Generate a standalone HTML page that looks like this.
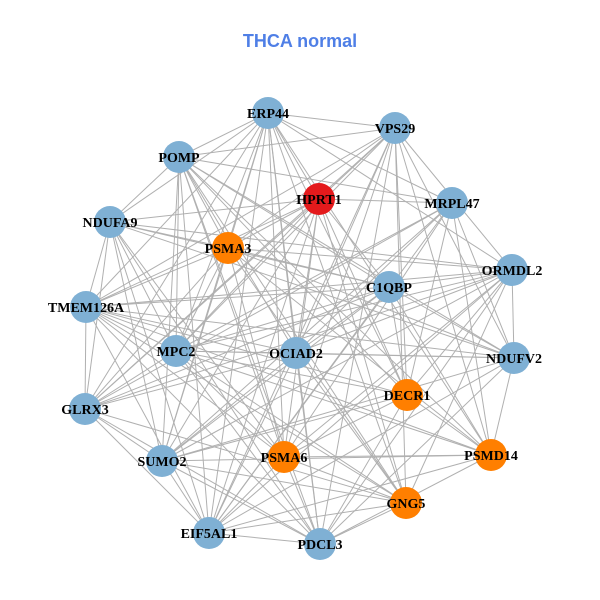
<!DOCTYPE html>
<html><head><meta charset="utf-8"><style>
html,body{margin:0;padding:0;background:#fff;}
svg{display:block;}
</style></head><body>
<svg id="g" width="600" height="600" xmlns="http://www.w3.org/2000/svg">
<rect width="600" height="600" fill="#fff"/>
<text x="300" y="47" text-anchor="middle" font-family="Liberation Sans, sans-serif" font-weight="bold" font-size="18" fill="#4f7fe6">THCA normal</text>
<g id="edges" stroke="#b0b0b0" stroke-width="1"></g>
<g id="nodes"></g>
<g id="labels" font-family="Liberation Serif, serif" font-weight="bold" font-size="14" fill="#000" text-anchor="middle"></g>
</svg>
<script>
var N=[
["ERP44",268,113,"b"],["VPS29",395,128,"b"],["POMP",179,157,"b"],["HPRT1",319,199,"r"],
["MRPL47",452,203,"b"],["NDUFA9",110,222,"b"],["PSMA3",228,248,"o"],["ORMDL2",512,270,"b"],
["C1QBP",389,287,"b"],["TMEM126A",86,307,"b"],["MPC2",176,351,"b"],["OCIAD2",296,353,"b"],
["NDUFV2",514,358,"b"],["DECR1",407,395,"o"],["GLRX3",85,409,"b"],["SUMO2",162,461,"b"],
["PSMA6",284,457,"o"],["PSMD14",491,455,"o"],["GNG5",406,503,"o"],["EIF5AL1",209,533,"b"],["PDCL3",320,544,"b"]];
var col={b:"#7fb0d4",r:"#e41a1c",o:"#ff7f00"};
var ns="http://www.w3.org/2000/svg";
var E=document.getElementById("edges"),G=document.getElementById("nodes"),L=document.getElementById("labels");
var s=7;
function rnd(){s=(s*9301+49297)%233280;return s/233280;}
for(var i=0;i<N.length;i++)for(var j=i+1;j<N.length;j++){
 if(rnd()<0.72){var l=document.createElementNS(ns,"line");
 l.setAttribute("x1",N[i][1]);l.setAttribute("y1",N[i][2]);l.setAttribute("x2",N[j][1]);l.setAttribute("y2",N[j][2]);E.appendChild(l);}
}
N.forEach(function(n){
 var c=document.createElementNS(ns,"circle");c.setAttribute("cx",n[1]);c.setAttribute("cy",n[2]);c.setAttribute("r",16);c.setAttribute("fill",col[n[3]]);G.appendChild(c);
 var t=document.createElementNS(ns,"text");t.setAttribute("x",n[1]);t.setAttribute("y",n[2]+5);t.textContent=n[0];L.appendChild(t);
});
</script>
</body></html>
